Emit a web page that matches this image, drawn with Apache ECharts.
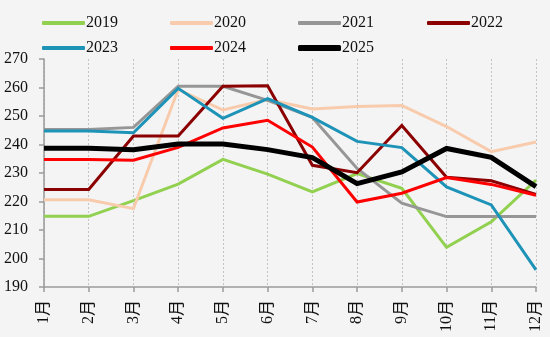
<!DOCTYPE html>
<html>
<head>
<meta charset="utf-8">
<script src="https://cdn.jsdelivr.net/npm/echarts@6/dist/echarts.min.js"></script>
<style>
  html, body { margin: 0; padding: 0; background: #f4f4f4; }
  #chart { width: 550px; height: 337px; }
</style>
</head>
<body>
<div id="chart"></div>
<script>
// Monthly values per year
const months = ['1月', '2月', '3月', '4月', '5月', '6月', '7月', '8月', '9月', '10月', '11月', '12月'];
const years = ['2019', '2020', '2021', '2022', '2023', '2024', '2025'];

const y2019 = [214.8, 214.8, 220.3, 226.1, 234.8, 229.6, 223.4, 229.8, 224.6, 203.9, 212.9, 227.5];
const y2020 = [220.6, 220.6, 217.5, 259.3, 252.1, 255.8, 252.5, 253.3, 253.7, 246.3, 237.5, 240.9];
const y2021 = [245.3, 245.3, 246.0, 260.4, 260.4, 255.5, 249.5, 231.6, 219.4, 214.7, 214.7, 214.7];
const y2022 = [224.2, 224.2, 243.0, 243.0, 260.4, 260.6, 232.7, 230.1, 246.7, 228.5, 227.3, 222.5];
const y2023 = [244.7, 244.7, 244.1, 259.7, 249.2, 256.1, 249.5, 241.1, 238.9, 225.1, 218.8, 196.0];
const y2024 = [234.7, 234.7, 234.5, 239.0, 245.8, 248.5, 239.1, 219.8, 222.9, 228.4, 226.0, 222.2];
const y2025 = [238.7, 238.7, 238.2, 240.2, 240.2, 238.2, 235.4, 226.3, 230.4, 238.6, 235.5, 225.2];

const yTicks = { min: 190, max: 270, step: 10 };

const seriesData = [y2019, y2020, y2021, y2022, y2023, y2024, y2025];
const colors = ['#92d050', '#f8cbad', '#969696', '#8b0000', '#1e93b8', '#ff0000', '#000000'];
const widths = [3, 3, 3, 3, 3, 3, 5];

const serif = '"Liberation Serif", "Times New Roman", "Noto Sans CJK SC", serif';

const chart = echarts.init(document.getElementById('chart'), null, { renderer: 'canvas' });

// one legend entry per year, laid out in a 4-column grid
const legendCols = [37, 165, 293, 422];
const legendRows = [10, 35];
const legends = years.map((name, i) => ({
  left: legendCols[i % 4],
  top: legendRows[Math.floor(i / 4)],
  itemWidth: 43,
  itemHeight: i === 6 ? 6 : 4,
  itemGap: 0,
  icon: 'roundRect',
  selectedMode: false,
  textStyle: { fontFamily: serif, fontSize: 16, color: '#111', padding: [0, 0, 0, -4] },
  data: [{ name: name, itemStyle: { color: colors[i] } }]
}));

chart.setOption({
  backgroundColor: '#f4f4f4',
  animation: false,
  legend: legends,
  grid: { left: 44, right: 14, top: 59, bottom: 50, containLabel: false },
  xAxis: {
    type: 'category',
    data: months,
    boundaryGap: false,
    axisLine: { lineStyle: { color: '#9a9a9a', width: 1.5 } },
    axisTick: { show: true, length: 5, lineStyle: { color: '#9a9a9a', width: 1.5 } },
    axisLabel: { rotate: 90, fontFamily: serif, fontSize: 16, color: '#111', margin: 13 },
    splitLine: { show: true, lineStyle: { color: '#c4c4c4', type: [2, 2], width: 1 } }
  },
  yAxis: {
    type: 'value',
    min: yTicks.min,
    max: yTicks.max,
    interval: yTicks.step,
    axisLine: { show: true, lineStyle: { color: '#9a9a9a', width: 1.5 } },
    axisTick: { show: true, length: 5, lineStyle: { color: '#9a9a9a', width: 1.5 } },
    axisLabel: { fontFamily: serif, fontSize: 16, color: '#111', margin: 16 },
    splitLine: { show: false }
  },
  series: years.map((name, i) => ({
    name: name,
    type: 'line',
    data: seriesData[i],
    symbol: 'none',
    z: i === 6 ? 10 : 2 + i,
    lineStyle: { color: colors[i], width: widths[i], join: 'miter' },
    itemStyle: { color: colors[i] }
  }))
});
</script>
</body>
</html>
